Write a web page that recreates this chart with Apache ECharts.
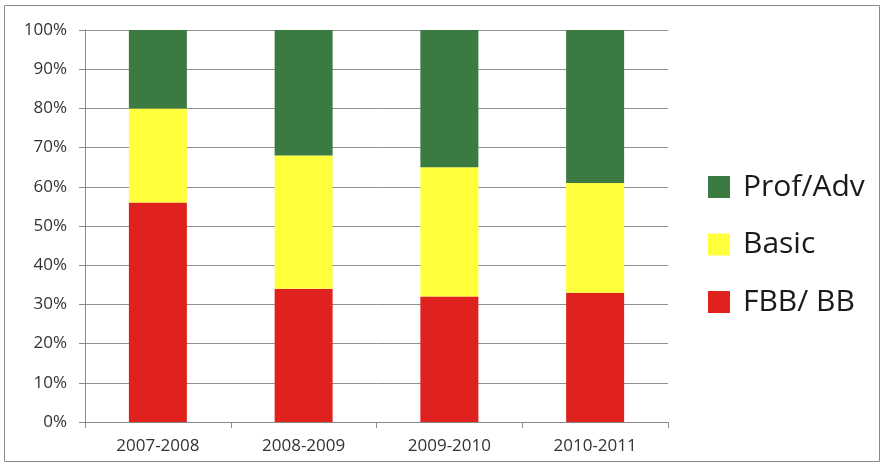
<!DOCTYPE html>
<html>
<head>
<meta charset="utf-8">
<script src="https://cdn.jsdelivr.net/npm/echarts@6/dist/echarts.min.js"></script>
<style>
  html, body { margin: 0; padding: 0; background: #fff; }
  #chart { width: 884px; height: 469px; }
</style>
</head>
<body>
<div id="chart"></div>
<script>
var categories = ['2007-2008', '2008-2009', '2009-2010', '2010-2011'];
var fbbBb = [56, 34, 32, 33];
var basic = [24, 34, 33, 28];
var profAdv = [20, 32, 35, 39];
var legendOrder = ['Prof/Adv', 'Basic', 'FBB/ BB'];

var chart = echarts.init(document.getElementById('chart'));

var font = '"Open Sans", "Liberation Sans", sans-serif';

var option = {
    animation: false,
    textStyle: { fontFamily: font },
    graphic: [{
        type: 'rect',
        shape: { x: 4.5, y: 5.5, width: 875, height: 456 },
        style: { fill: 'none', stroke: '#8a8a8a', lineWidth: 1 },
        silent: true
    }],
    grid: { left: 85, right: 216, top: 30, bottom: 47 },
    legend: {
        data: legendOrder,
        orient: 'vertical',
        left: 703,
        top: 167,
        itemWidth: 22,
        itemHeight: 22,
        itemGap: 27.5,
        icon: 'rect',
        textStyle: {
            fontSize: 30, color: '#1a1a1a', fontFamily: font,
            padding: [0, 0, 0, 8]
        }
    },
    xAxis: {
        type: 'category',
        data: categories,
        axisLine: { lineStyle: { color: '#8a8a8a' } },
        axisTick: { show: true, length: 6, lineStyle: { color: '#8a8a8a' } },
        axisLabel: { fontSize: 17, color: '#333', margin: 16 }
    },
    yAxis: {
        type: 'value',
        min: 0,
        max: 100,
        interval: 10,
        axisLine: { show: true, lineStyle: { color: '#8a8a8a' } },
        axisTick: { show: true, length: 6, lineStyle: { color: '#8a8a8a' } },
        axisLabel: { formatter: '{value}%', fontSize: 17, color: '#333', margin: 18 },
        splitLine: { lineStyle: { color: '#8f8f8f', width: 1 } }
    },
    series: [
        {
            name: 'FBB/ BB', type: 'bar', stack: 'total', data: fbbBb,
            barWidth: 58, itemStyle: { color: '#e0221f' }
        },
        {
            name: 'Basic', type: 'bar', stack: 'total', data: basic,
            barWidth: 58, itemStyle: { color: '#ffff3c' }
        },
        {
            name: 'Prof/Adv', type: 'bar', stack: 'total', data: profAdv,
            barWidth: 58, itemStyle: { color: '#3b7a40' }
        }
    ]
};

chart.setOption(option);
</script>
</body>
</html>
